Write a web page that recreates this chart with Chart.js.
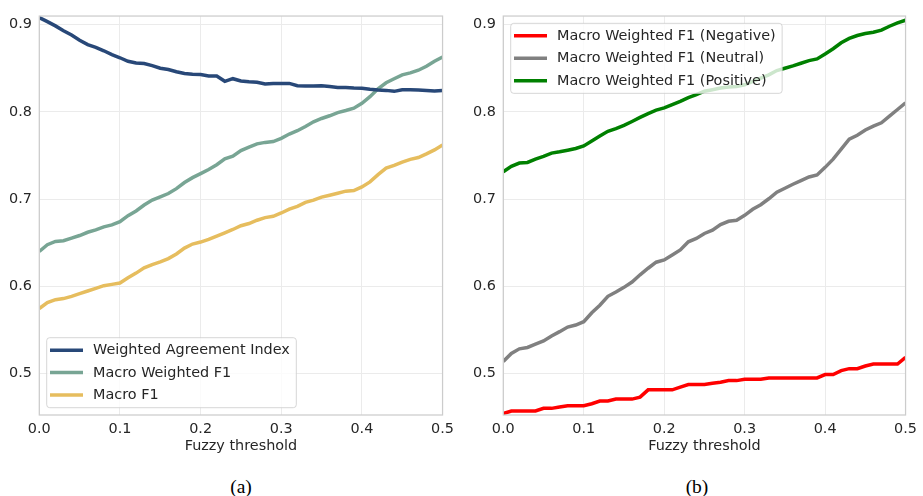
<!DOCTYPE html>
<html><head><meta charset="utf-8">
<script src="https://cdn.jsdelivr.net/npm/chart.js@4.4.1/dist/chart.umd.min.js"></script>
<style>
html,body{margin:0;padding:0;background:#fff;width:923px;height:496px;overflow:hidden;}
#c1{position:absolute;left:0;top:0;}
#c2{position:absolute;left:460px;top:0;}
.cap{position:absolute;font-family:"Liberation Serif","Times New Roman",serif;font-size:19.5px;color:#000;transform:translateX(-50%);line-height:1;}
</style></head><body>
<canvas id="c1" width="460" height="460"></canvas>
<canvas id="c2" width="463" height="460"></canvas>
<div class="cap" style="left:241px;top:477px">(a)</div>
<div class="cap" style="left:697px;top:477px">(b)</div>
<script>
const thresholds = [0.00,0.01,0.02,0.03,0.04,0.05,0.06,0.07,0.08,0.09,
  0.10,0.11,0.12,0.13,0.14,0.15,0.16,0.17,0.18,0.19,
  0.20,0.21,0.22,0.23,0.24,0.25,0.26,0.27,0.28,0.29,
  0.30,0.31,0.32,0.33,0.34,0.35,0.36,0.37,0.38,0.39,
  0.40,0.41,0.42,0.43,0.44,0.45,0.46,0.47,0.48,0.49,0.50];

const weightedAgreementIndex = [0.908,0.9034,0.8985,0.893,0.888,0.882,0.877,0.874,0.870,0.8655,
  0.862,0.858,0.856,0.8553,0.853,0.850,0.8485,0.846,0.844,0.8432,
  0.8428,0.841,0.841,0.835,0.838,0.8354,0.8345,0.834,0.832,0.8326,
  0.8326,0.8326,0.830,0.8295,0.8295,0.830,0.829,0.828,0.828,0.8273,
  0.827,0.8258,0.825,0.8246,0.8235,0.8254,0.8254,0.825,0.8246,0.8239,0.8246];

const macroWeightedF1 = [0.640,0.6477,0.6515,0.6523,0.6553,0.6583,0.662,0.6648,0.6682,0.6705,
  0.6742,0.681,0.6864,0.6932,0.6989,0.7027,0.7064,0.712,0.719,0.7246,
  0.7292,0.734,0.7394,0.7462,0.7492,0.7556,0.7595,0.7633,0.765,0.766,
  0.7697,0.7746,0.7784,0.7833,0.7886,0.7924,0.7955,0.7992,0.8015,0.8042,
  0.8098,0.8174,0.8265,0.8333,0.8379,0.8424,0.8447,0.8477,0.8523,0.858,0.8629];

const macroF1 = [0.5746,0.5814,0.5848,0.586,0.5886,0.5917,0.5947,0.5977,0.6008,0.6023,
  0.6038,0.6098,0.6152,0.6212,0.625,0.628,0.6318,0.6371,0.6439,0.6485,
  0.6508,0.6538,0.6576,0.6614,0.6652,0.6695,0.672,0.6758,0.6788,0.6803,
  0.6841,0.6886,0.6917,0.6962,0.6989,0.7023,0.7045,0.7068,0.7091,0.7098,
  0.714,0.7197,0.728,0.7356,0.7386,0.7424,0.7455,0.7477,0.7519,0.7564,0.7621];

const f1Negative = [0.4542,0.4572,0.4572,0.4572,0.4572,0.4602,0.4602,0.4617,0.4633,0.4633,
  0.4633,0.4655,0.4686,0.4686,0.4708,0.4708,0.4708,0.4731,0.4814,0.4814,
  0.4814,0.4814,0.4845,0.4875,0.4875,0.4875,0.489,0.4902,0.492,0.492,
  0.4936,0.4936,0.4936,0.4951,0.4951,0.4951,0.4951,0.4951,0.4951,0.4951,
  0.4989,0.4989,0.5034,0.5057,0.5057,0.5087,0.511,0.511,0.511,0.511,0.5186];

const f1Neutral = [0.514,0.5231,0.5284,0.530,0.5337,0.5375,0.5432,0.5481,0.5534,0.5557,
  0.5595,0.5697,0.5784,0.5886,0.5936,0.5989,0.605,0.6133,0.6208,0.6277,
  0.6303,0.636,0.6417,0.6511,0.6549,0.6606,0.6644,0.6708,0.6746,0.6758,
  0.6814,0.6883,0.6936,0.7004,0.708,0.7125,0.717,0.7212,0.7254,0.7277,
  0.7364,0.7458,0.7572,0.7686,0.7731,0.7792,0.7837,0.7875,0.7951,0.8027,0.8102];

const f1Positive = [0.7314,0.7375,0.7413,0.742,0.7458,0.7489,0.7527,0.7542,0.756,0.758,
  0.761,0.7667,0.7723,0.7777,0.7807,0.7845,0.789,0.7936,0.798,0.802,
  0.8045,0.8083,0.812,0.8163,0.8197,0.8237,0.8254,0.8273,0.8284,0.829,
  0.831,0.8348,0.8386,0.8424,0.8473,0.850,0.8527,0.8557,0.8587,0.8606,
  0.8663,0.8723,0.8792,0.8841,0.8875,0.8898,0.8913,0.8936,0.8981,0.9019,0.905];

const xTicks = [0.0,0.1,0.2,0.3,0.4,0.5];
const yTicks = [0.5,0.6,0.7,0.8,0.9];
const yMin = 0.4526, yMax = 0.9098;
const xTitle = 'Fuzzy threshold';
const labelsA = ['Weighted Agreement Index','Macro Weighted F1','Macro F1'];
const labelsB = ['Macro Weighted F1 (Negative)','Macro Weighted F1 (Neutral)','Macro Weighted F1 (Positive)'];

const FONT = {family:'"DejaVu Sans", sans-serif', size:14.4};
const TXT = '#262626';

function pts(vals){ return thresholds.map((t,i)=>({x:t,y:vals[i]})); }

const frame = {
  id:'frame',
  afterDatasetsDraw(chart){
    const {ctx, chartArea:ca} = chart;
    ctx.save();
    ctx.strokeStyle = '#cccccc';
    ctx.lineWidth = 1.25;
    ctx.strokeRect(ca.left, ca.top, ca.right-ca.left, ca.bottom-ca.top);
    ctx.restore();
  }
};

const boxLegend = {
  id:'boxLegend',
  afterDatasetsDraw(chart, args, o){
    const ctx = chart.ctx, ca = chart.chartArea;
    const ds = chart.data.datasets;
    ctx.save();
    ctx.font = '14.4px "DejaVu Sans", sans-serif';
    const tw = Math.max(...ds.map(d=>ctx.measureText(d.label).width));
    const w = 46.3 + tw + 6.5, h = 70;
    const x = ca.left + 7.4;
    const y = o.corner === 'bottom' ? ca.bottom - 7.3 - h : ca.top + 7.3;
    const r = 3;
    ctx.beginPath();
    ctx.moveTo(x+r,y); ctx.lineTo(x+w-r,y); ctx.arcTo(x+w,y,x+w,y+r,r);
    ctx.lineTo(x+w,y+h-r); ctx.arcTo(x+w,y+h,x+w-r,y+h,r);
    ctx.lineTo(x+r,y+h); ctx.arcTo(x,y+h,x,y+h-r,r);
    ctx.lineTo(x,y+r); ctx.arcTo(x,y,x+r,y,r);
    ctx.closePath();
    ctx.fillStyle = 'rgba(255,255,255,0.8)';
    ctx.fill();
    ctx.strokeStyle = 'rgba(204,204,204,0.8)';
    ctx.lineWidth = 1;
    ctx.stroke();
    ds.forEach((d,i)=>{
      const cy = y + 12.5 + i*22.4;
      ctx.strokeStyle = d.borderColor;
      ctx.lineWidth = 3.5;
      ctx.lineCap = 'butt';
      ctx.beginPath(); ctx.moveTo(x+3.3, cy); ctx.lineTo(x+36.3, cy); ctx.stroke();
      ctx.fillStyle = TXT;
      ctx.textBaseline = 'middle';
      ctx.textAlign = 'left';
      ctx.fillText(d.label, x+46.3, cy+0.5);
    });
    ctx.restore();
  }
};

function makeChart(id, series, labels, colors, yAxisW, rightPad, corner){
  return new Chart(document.getElementById(id), {
    type:'line',
    data:{datasets: series.map((s,i)=>({
      label: labels[i], data: pts(s), borderColor: colors[i], backgroundColor: colors[i],
      borderWidth:3.5, pointRadius:0, tension:0, fill:false
    }))},
    options:{
      responsive:false, animation:false, devicePixelRatio:1,
      layout:{padding:{left:0, top:12.7, right:rightPad, bottom:0}},
      plugins:{legend:{display:false}, tooltip:{enabled:false}, boxLegend:{corner:corner}},
      scales:{
        x:{type:'linear', min:0, max:0.5,
          afterBuildTicks:s=>{ s.ticks = xTicks.map(v=>({value:v})); },
          afterFit:s=>{ s.height = 45; },
          ticks:{callback:v=>Number(v).toFixed(1), font:FONT, color:TXT, padding:6, maxRotation:0, autoSkip:false},
          grid:{color:'#ebebeb', lineWidth:1, drawTicks:false},
          border:{display:false},
          title:{display:true, text:xTitle, font:FONT, color:TXT, padding:{top:0,bottom:5}}
        },
        y:{type:'linear', min:yMin, max:yMax,
          afterBuildTicks:s=>{ s.ticks = yTicks.map(v=>({value:v})); },
          afterFit:s=>{ s.width = yAxisW; },
          ticks:{callback:v=>Number(v).toFixed(1), font:FONT, color:TXT, padding:7.4},
          grid:{color:'#ebebeb', lineWidth:1, drawTicks:false},
          border:{display:false}
        }
      }
    },
    plugins:[frame, boxLegend]
  });
}

makeChart('c1', [weightedAgreementIndex, macroWeightedF1, macroF1], labelsA,
  ['#284878','#78a594','#e6bd5e'], 39.3, 15.7, 'bottom');
makeChart('c2', [f1Negative, f1Neutral, f1Positive], labelsB,
  ['#ff0000','#808080','#008000'], 43.3, 14, 'top');
</script>
</body></html>
